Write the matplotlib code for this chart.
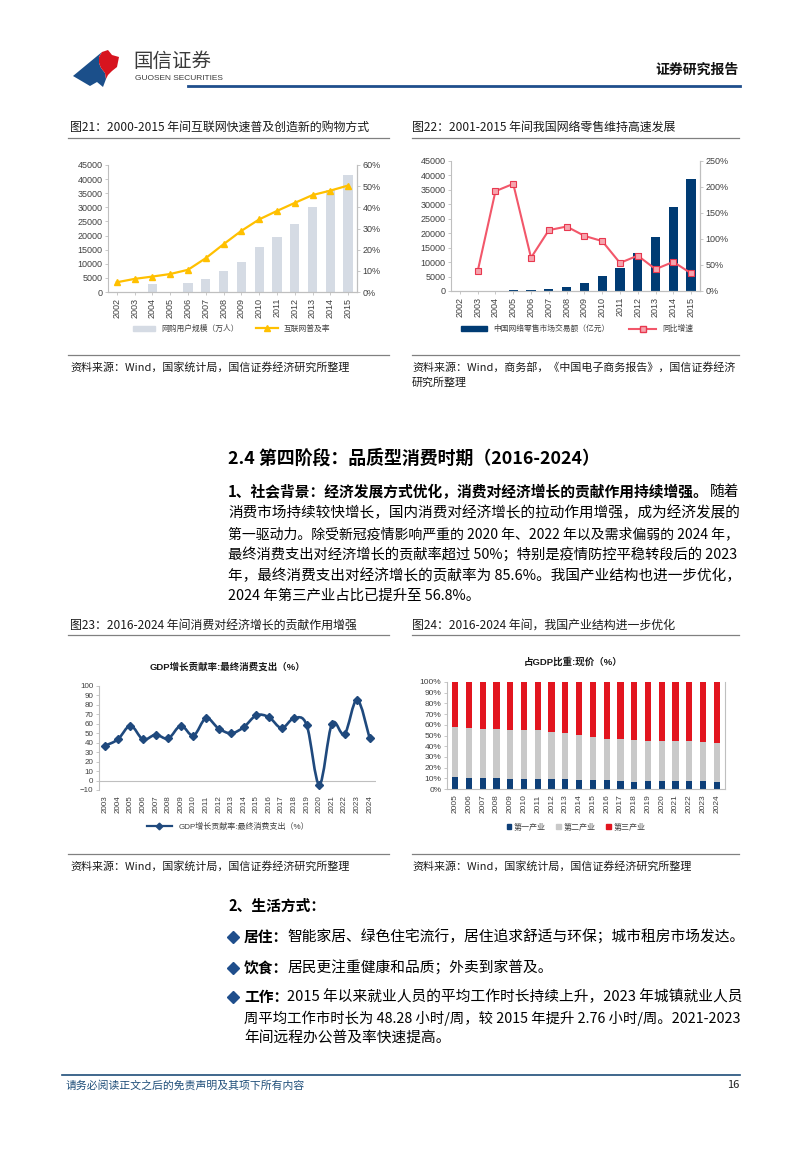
import numpy as np
import matplotlib
matplotlib.use("Agg")
import matplotlib.pyplot as plt
from matplotlib.patches import Polygon, Rectangle, PathPatch
from matplotlib.lines import Line2D
from matplotlib.path import Path

plt.rcParams['font.family'] = ['Liberation Sans', 'Noto Sans CJK SC', 'DejaVu Sans']
CJK = ['Noto Sans CJK SC', 'DejaVu Sans']

# ---------------- data ----------------
years21 = ['2002', '2003', '2004', '2005', '2006', '2007', '2008', '2009',
           '2010', '2011', '2012', '2013', '2014', '2015']
users21 = [0, 0, 2700, 0, 3300, 4600, 7400, 10800, 16100, 19400, 24200, 30200, 36100, 41300]
rate21 = [4.6, 6.2, 7.3, 8.5, 10.5, 16.0, 22.6, 28.9, 34.3, 38.3, 42.1, 45.8, 47.9, 50.3]

years22 = ['2002', '2003', '2004', '2005', '2006', '2007', '2008', '2009',
           '2010', '2011', '2012', '2013', '2014', '2015']
sales22 = [0, 0, 60, 190, 300, 560, 1280, 2630, 5130, 7850, 13200, 18600, 29000, 38800]
growth22 = [np.nan, 38, 192, 206, 64, 117, 124, 106, 96, 54, 68, 42, 56, 34]

years23 = [str(y) for y in range(2003, 2025)]
contrib23 = [37, 43.5, 58, 43.5, 48.5, 44.5, 58, 47.5, 66, 55, 50, 56.5, 69, 67,
             55.5, 66, 58.5, -4.5, 60, 49, 85.6, 44.5]

years24 = [str(y) for y in range(2005, 2025)]
primary24 = [11.6, 10.6, 10.2, 10.2, 9.6, 9.3, 9.2, 9.1, 8.9, 8.6, 8.4, 8.1, 7.5, 7.0,
             7.1, 7.7, 7.2, 7.3, 7.1, 6.8]
secondary24 = [46.1, 46.7, 46.1, 45.9, 45.2, 45.5, 45.5, 44.5, 43.0, 42.1, 39.9, 38.6,
               38.8, 38.7, 37.9, 36.9, 38.0, 37.7, 36.4, 36.4]
tertiary24 = [100 - p - s for p, s in zip(primary24, secondary24)]

W, H = 807, 1155
fig = plt.figure(figsize=(W / 100, H / 100), dpi=100)
fig.patch.set_facecolor('white')

# overlay in pixel coordinates
bg = fig.add_axes([0, 0, 1, 1])
bg.set_xlim(0, W)
bg.set_ylim(H, 0)
bg.axis('off')
fig.canvas.draw()
renderer = fig.canvas.get_renderer()


def add_ax(l, t, r, b):
    return fig.add_axes([l / W, 1 - b / H, (r - l) / W, (b - t) / H])


def fxy(x, y):
    return (x / W, 1 - y / H)


def txt(x, y, s, size=10.6, weight='normal', color='#1a1a1a', ha='left', **kw):
    return bg.text(x, y, s, fontsize=size, fontweight=weight, color=color, ha=ha,
                   va='center', family=CJK, **kw)


def width_of(t):
    return t.get_window_extent(renderer=renderer).width


def fit_line(x, y, s, target, size=10.6, color='#000000'):
    t = txt(x, y, s, size=size, color=color)
    w = width_of(t)
    t.set_fontsize(size * target / w)
    return t


GRID = '#bfbfbf'
TICK = '#404040'

# ---------------- header ----------------
blue_poly = [(73, 76), (102, 52), (99, 57), (99, 63), (101, 68), (105, 73), (106, 79),
             (103, 87), (97, 82), (90, 86)]
red_poly = [(102, 52), (108, 50), (112, 55), (119, 57), (117, 67), (112, 71), (108, 75),
            (106, 79), (105, 73), (101, 68), (99, 63), (99, 57)]
bg.add_patch(Polygon(blue_poly, closed=True, color='#1b4f8a', lw=0))
bg.add_patch(Polygon(red_poly, closed=True, color='#d7141f', lw=0))
txt(133, 61, '国信证券', size=14, color='#3a3a3a')
bg.text(135, 79, 'GUOSEN SECURITIES', fontsize=6.0, color='#3a3a3a', va='center',
        family=['Liberation Sans'])
txt(739, 70, '证券研究报告', size=10, weight='bold', ha='right', color='#111111')
bg.plot([188, 740], [86, 86], color='#1f4e8c', lw=2.0)

# ---------------- figure titles ----------------
txt(70, 127, '图21：2000-2015 年间互联网快速普及创造新的购物方式', size=8.6)
txt(412, 127, '图22：2001-2015 年间我国网络零售维持高速发展', size=8.6)
bg.plot([68, 389], [138, 138], color='#808080', lw=0.9)
bg.plot([412, 739], [138, 138], color='#808080', lw=0.9)


def style_ax(ax, right=False, size=6.5):
    ax.spines['top'].set_visible(False)
    ax.spines['right'].set_visible(right)
    for s in ['left', 'bottom', 'right']:
        ax.spines[s].set_color(GRID)
        ax.spines[s].set_linewidth(0.8)
    ax.tick_params(axis='both', labelsize=size, colors=TICK, length=2, width=0.6,
                   color=GRID, pad=2)
    ax.set_facecolor('none')


# ---------------- chart 21 ----------------
ax = add_ax(108, 165, 357, 292)
x = np.arange(len(years21))
ax.bar(x, users21, width=0.52, color='#d5dbe4', zorder=2)
ax.set_xlim(-0.5, len(x) - 0.5)
ax.set_ylim(0, 45000)
ax.set_yticks(range(0, 45001, 5000))
ax.set_xticks(x)
ax.set_xticklabels(years21, rotation=90)
style_ax(ax, right=True)
ax2 = ax.twinx()
ax2.plot(x, rate21, color='#ffc000', lw=1.6, marker='^', ms=4.2, zorder=3)
ax2.set_ylim(0, 60)
ax2.set_yticks(range(0, 61, 10))
ax2.set_yticklabels([f'{v}%' for v in range(0, 61, 10)])
style_ax(ax2, right=True)
ax2.spines['left'].set_visible(False)
h1 = [Rectangle((0, 0), 1, 1, color='#d5dbe4'),
      Line2D([], [], color='#ffc000', lw=1.6, marker='^', ms=4.2)]
fig.legend(h1, ['网购用户规模（万人）', '互联网普及率'], loc='center', bbox_to_anchor=fxy(232, 329),
           ncol=2, frameon=False, prop={'family': CJK, 'size': 5.6}, handlelength=2.8,
           columnspacing=2.2, handleheight=0.6, labelcolor=TICK)

# ---------------- chart 22 ----------------
ax = add_ax(451, 161, 700, 291)
x = np.arange(len(years22))
ax.bar(x, sales22, width=0.52, color='#003b73', zorder=2)
ax.set_xlim(-0.5, len(x) - 0.5)
ax.set_ylim(0, 45000)
ax.set_yticks(range(0, 45001, 5000))
ax.set_xticks(x)
ax.set_xticklabels(years22, rotation=90)
style_ax(ax, right=True)
ax2 = ax.twinx()
ax2.plot(x, growth22, color='#f2576a', lw=1.5, marker='s', ms=4, mfc='#f6a4ae',
         mec='#e8384f', mew=0.8, zorder=3)
ax2.set_ylim(0, 250)
ax2.set_yticks(range(0, 251, 50))
ax2.set_yticklabels([f'{v}%' for v in range(0, 251, 50)])
style_ax(ax2, right=True)
ax2.spines['left'].set_visible(False)
h2 = [Rectangle((0, 0), 1, 1, color='#003b73'),
      Line2D([], [], color='#f2576a', lw=1.5, marker='s', ms=4, mfc='#f6a4ae', mec='#e8384f')]
fig.legend(h2, ['中国网络零售市场交易额（亿元）', '同比增速'], loc='center', bbox_to_anchor=fxy(577, 329),
           ncol=2, frameon=False, prop={'family': CJK, 'size': 5.6}, handlelength=3.4,
           columnspacing=2.5, handleheight=0.5, labelcolor=TICK)

# ---------------- sources 1 ----------------
bg.plot([68, 389], [355, 355], color='#808080', lw=0.9)
bg.plot([412, 739], [355, 355], color='#808080', lw=0.9)
txt(70, 367, '资料来源：Wind，国家统计局，国信证券经济研究所整理', size=7.9)
txt(412, 367, '资料来源：Wind，商务部，《中国电子商务报告》，国信证券经济', size=7.9)
txt(412, 383, '研究所整理', size=7.9)

# ---------------- section text ----------------
txt(228, 458, '2.4 第四阶段：品质型消费时期（2016-2024）', size=12.9, weight='bold', color='#000000')
bold1 = '1、社会背景：经济发展方式优化，消费对经济增长的贡献作用持续增强。'
t1 = txt(228, 492, bold1, size=10.6, weight='bold', color='#000000')
t2 = txt(0, 492, '随着', size=10.6, color='#000000')
w1, w2 = width_of(t1), width_of(t2)
sc = 512.0 / (w1 + w2)
t1.set_fontsize(10.6 * sc)
t2.set_fontsize(10.6 * sc)
t2.set_x(228 + w1 * sc - 1)
para = ['消费市场持续较快增长，国内消费对经济增长的拉动作用增强，成为经济发展的',
        '第一驱动力。除受新冠疫情影响严重的 2020 年、2022 年以及需求偏弱的 2024 年，',
        '最终消费支出对经济增长的贡献率超过 50%；特别是疫情防控平稳转段后的 2023',
        '年，最终消费支出对经济增长的贡献率为 85.6%。我国产业结构也进一步优化，']
for i, line in enumerate(para):
    fit_line(228, 513 + i * 20.8, line, 512)
txt(228, 513 + 4 * 20.8, '2024 年第三产业占比已提升至 56.8%。', size=10.4, color='#000000')

# ---------------- figure titles 2 ----------------
txt(70, 625, '图23：2016-2024 年间消费对经济增长的贡献作用增强', size=8.6)
txt(412, 625, '图24：2016-2024 年间，我国产业结构进一步优化', size=8.6)
bg.plot([68, 389], [635, 635], color='#808080', lw=0.9)
bg.plot([412, 739], [635, 635], color='#808080', lw=0.9)

# ---------------- chart 23 ----------------
ax = add_ax(99, 686, 376, 790)
x = np.arange(len(years23))
y = np.array(contrib23, dtype=float)
# smooth (Catmull-Rom style) curve through the data points
verts = [(x[0], y[0])]
codes = [Path.MOVETO]
n = len(x)
for i in range(n - 1):
    p0 = np.array([x[max(i - 1, 0)], y[max(i - 1, 0)]])
    p1 = np.array([x[i], y[i]])
    p2 = np.array([x[i + 1], y[i + 1]])
    p3 = np.array([x[min(i + 2, n - 1)], y[min(i + 2, n - 1)]])
    c1 = p1 + (p2 - p0) / 6.0
    c2 = p2 - (p3 - p1) / 6.0
    verts += [tuple(c1), tuple(c2), tuple(p2)]
    codes += [Path.CURVE4] * 3
ax.add_patch(PathPatch(Path(verts, codes), fill=False, ec='#1f497d', lw=1.9, zorder=3))
ax.plot(x, y, linestyle='none', marker='D', ms=3.8, color='#1f497d', zorder=4)
ax.axhline(0, color=GRID, lw=0.8, zorder=1)
ax.set_xlim(-0.5, n - 0.5)
ax.set_ylim(-10, 100)
ax.set_yticks(range(-10, 101, 10))
ax.set_xticks(x)
ax.set_xticklabels(years23, rotation=90)
style_ax(ax, size=5.8)
ax.spines['bottom'].set_visible(False)
ax.tick_params(axis='x', length=0, pad=4)
bg.text(227, 667, 'GDP增长贡献率:最终消费支出（%）', fontsize=6.8, fontweight='bold', ha='center',
        va='center', color='#1a1a1a')
h3 = [Line2D([], [], color='#1f497d', lw=1.6, marker='D', ms=3.4)]
fig.legend(h3, ['GDP增长贡献率:最终消费支出（%）'], loc='center', bbox_to_anchor=fxy(228, 827),
           frameon=False, prop={'size': 5.8}, handlelength=3.2, labelcolor=TICK)

# ---------------- chart 24 ----------------
ax = add_ax(447, 682, 725, 789)
x = np.arange(len(years24))
ax.bar(x, primary24, width=0.45, color='#0e3f78', zorder=2)
ax.bar(x, secondary24, width=0.45, bottom=primary24, color='#c9c9c9', zorder=2)
bot3 = [p + s for p, s in zip(primary24, secondary24)]
ax.bar(x, tertiary24, width=0.45, bottom=bot3, color='#e2151f', zorder=2)
ax.set_xlim(-0.6, len(x) - 0.4)
ax.set_ylim(0, 100)
ax.set_yticks(range(0, 101, 10))
ax.set_yticklabels([f'{v}%' for v in range(0, 101, 10)])
ax.set_xticks(x)
ax.set_xticklabels(years24, rotation=90)
style_ax(ax, right=True, size=6.0)
ax.tick_params(axis='x', length=0, pad=4)
bg.text(573, 662, '占GDP比重:现价（%）', fontsize=6.8, fontweight='bold', ha='center',
        va='center', color='#1a1a1a')
h4 = [Rectangle((0, 0), 1, 1, color=c) for c in ['#0e3f78', '#c9c9c9', '#e2151f']]
fig.legend(h4, ['第一产业', '第二产业', '第三产业'], loc='center', bbox_to_anchor=fxy(576, 827),
           ncol=3, frameon=False, prop={'family': CJK, 'size': 5.8}, handlelength=0.6,
           handleheight=0.6, handletextpad=0.3, columnspacing=1.3, labelcolor=TICK)

# ---------------- sources 2 ----------------
bg.plot([68, 389], [854, 854], color='#808080', lw=0.9)
bg.plot([412, 739], [854, 854], color='#808080', lw=0.9)
txt(70, 866, '资料来源：Wind，国家统计局，国信证券经济研究所整理', size=7.9)
txt(412, 866, '资料来源：Wind，国家统计局，国信证券经济研究所整理', size=7.9)

# ---------------- lifestyle ----------------
txt(228, 906, '2、生活方式：', size=10.6, weight='bold', color='#000000')
bullets = [(937, '居住：', '智能家居、绿色住宅流行，居住追求舒适与环保；城市租房市场发达。', None),
           (968, '饮食：', '居民更注重健康和品质；外卖到家普及。', None),
           (997, '工作：', '2015 年以来就业人员的平均工作时长持续上升，2023 年城镇就业人员', 742)]
for yy, b, rest, right in bullets:
    bg.plot([233], [yy], marker='D', ms=6, color='#1f4e8c', linestyle='none')
    tb = txt(244, yy, b, size=10.6, weight='bold', color='#000000')
    wb = width_of(tb) - 1
    tr = txt(244 + wb, yy, rest, size=10.6, color='#000000')
    if right is not None:
        tr.set_fontsize(10.6 * (right - 244 - wb) / width_of(tr))
fit_line(244, 1018, '周平均工作市时长为 48.28 小时/周，较 2015 年提升 2.76 小时/周。2021-2023', 496)
txt(244, 1038, '年间远程办公普及率快速提高。', size=10.6, color='#000000')

# ---------------- footer ----------------
bg.plot([62, 740], [1075, 1075], color='#1f4e79', lw=1.2)
txt(66, 1085, '请务必阅读正文之后的免责声明及其项下所有内容', size=7.8, color='#1f4e79')
txt(739, 1085, '16', size=8, ha='right', color='#222222')

fig.savefig('out.png', dpi=100, facecolor='white')
